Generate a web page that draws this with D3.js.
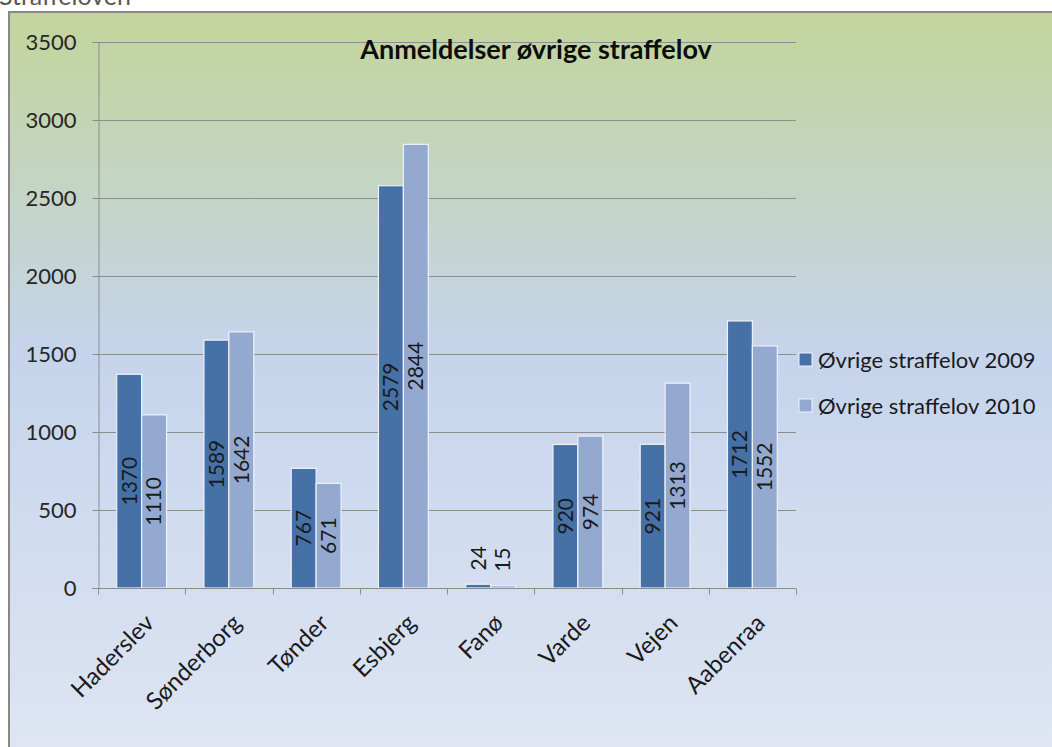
<!DOCTYPE html>
<html>
<head>
<meta charset="utf-8">
<script src="https://cdn.jsdelivr.net/npm/d3@7"></script>
<style>
  body { margin: 0; background: #fff; }
  svg { display: block; font-family: Lato, "Open Sans", sans-serif; }
</style>
</head>
<body>
<div id="chart"></div>
<script>
// data
var categories = ['Haderslev', 'Sønderborg', 'Tønder', 'Esbjerg', 'Fanø', 'Varde', 'Vejen', 'Aabenraa'];
var values2009 = [1370, 1589, 767, 2579, 24, 920, 921, 1712];
var values2010 = [1110, 1642, 671, 2844, 15, 974, 1313, 1552];
var seriesNames = ['Øvrige straffelov 2009', 'Øvrige straffelov 2010'];
var yTicks = [0, 500, 1000, 1500, 2000, 2500, 3000, 3500];
var colors = ['#4571a6', '#94a9d0'];

var width = 1052, height = 747;
var svg = d3.select('#chart').append('svg')
  .attr('width', width)
  .attr('height', height);

// background gradient (green top -> blue -> pale)
var defs = svg.append('defs');
var grad = defs.append('linearGradient')
  .attr('id', 'bg')
  .attr('x1', 0).attr('y1', 0).attr('x2', 0).attr('y2', 1);
grad.append('stop').attr('offset', '0%').attr('stop-color', '#c3d59a');
grad.append('stop').attr('offset', '45%').attr('stop-color', '#c5d4ec');
grad.append('stop').attr('offset', '100%').attr('stop-color', '#e0e6f3');

// heading above the chart, cut off by the top edge like in the original
svg.append('text')
  .attr('x', -1)
  .attr('y', 5)
  .style('font-size', '25px')
  .style('fill', '#595959')
  .text('Straffeloven');

svg.append('rect')
  .attr('x', 9)
  .attr('y', 12)
  .attr('width', 1060)
  .attr('height', 760)
  .style('fill', 'url(#bg)')
  .style('stroke', '#888')
  .style('stroke-width', 2);

var plot = { left: 98, right: 796, top: 42, bottom: 588 };

var x = d3.scaleBand()
  .domain(categories)
  .range([plot.left, plot.right]);

var inner = d3.scaleBand()
  .domain([0, 1])
  .range([0, x.bandwidth()])
  .paddingOuter(0.75)
  .paddingInner(0);

var y = d3.scaleLinear()
  .domain([0, 3500])
  .range([plot.bottom, plot.top]);

// gridlines
svg.append('g')
  .selectAll('line')
  .data(yTicks)
  .enter()
  .append('line')
  .attr('x1', plot.left)
  .attr('x2', plot.right)
  .attr('y1', function(d) { return Math.round(y(d)) + 0.5; })
  .attr('y2', function(d) { return Math.round(y(d)) + 0.5; })
  .style('stroke', '#8c8c8c')
  .style('stroke-width', 1);

// y axis
var yAxis = svg.append('g')
  .attr('transform', 'translate(' + (plot.left + 0.5) + ',0)')
  .call(d3.axisLeft(y).tickValues(yTicks).tickFormat(d3.format('d')).tickSize(6).tickPadding(16));
yAxis.select('.domain').style('stroke', '#8c8c8c');
yAxis.selectAll('.tick line').style('stroke', '#8c8c8c');
yAxis.selectAll('.tick text')
  .style('font-size', '22px')
  .style('fill', '#262626')
  .style('font-family', 'Lato, sans-serif');

// bars
var series = [values2009, values2010];
series.forEach(function(vals, s) {
  var g = svg.append('g');
  g.selectAll('rect')
    .data(vals)
    .enter()
    .append('rect')
    .attr('x', function(d, i) { return x(categories[i]) + inner(s); })
    .attr('y', function(d) { return y(d); })
    .attr('width', inner.bandwidth())
    .attr('height', function(d) { return y(0) - y(d); })
    .style('fill', colors[s])
    .style('stroke', '#eef2fa')
    .style('stroke-width', 1.2);

  // value labels, rotated, centered in the bar (above it if the bar is tiny)
  g.selectAll('text')
    .data(vals)
    .enter()
    .append('text')
    .attr('transform', function(d, i) {
      var cx = x(categories[i]) + inner(s) + inner.bandwidth() / 2;
      var h = y(0) - y(d);
      var cy = h > 60 ? (y(d) + y(0)) / 2 : y(d) - 26;
      return 'translate(' + cx + ',' + cy + ') rotate(-90)';
    })
    .attr('text-anchor', 'middle')
    .attr('dy', '0.35em')
    .style('font-size', '21px')
    .style('fill', '#1a1a1a')
    .text(function(d) { return d; });
});

// x axis
var xAxis = svg.append('g')
  .attr('transform', 'translate(0,' + (plot.bottom + 0.5) + ')');
xAxis.append('line')
  .attr('x1', plot.left)
  .attr('x2', plot.right)
  .style('stroke', '#8c8c8c');
xAxis.selectAll('line.tk')
  .data(d3.range(categories.length + 1))
  .enter()
  .append('line')
  .attr('class', 'tk')
  .attr('x1', function(i) { return Math.round(plot.left + i * x.step()) + 0.5; })
  .attr('x2', function(i) { return Math.round(plot.left + i * x.step()) + 0.5; })
  .attr('y1', 0)
  .attr('y2', 6)
  .style('stroke', '#8c8c8c');
xAxis.selectAll('text')
  .data(categories)
  .enter()
  .append('text')
  .attr('transform', function(d) {
    return 'translate(' + (x(d) + x.bandwidth() / 2 + 14) + ',' + 36 + ') rotate(-45)';
  })
  .attr('text-anchor', 'end')
  .style('font-size', '24px')
  .style('fill', '#1a1a1a')
  .text(function(d) { return d; });

// title
svg.append('text')
  .attr('x', 536)
  .attr('y', 59)
  .attr('text-anchor', 'middle')
  .style('font-size', '27px')
  .style('font-weight', 'bold')
  .style('fill', '#0d0d0d')
  .text('Anmeldelser øvrige straffelov');

// legend
var legend = svg.append('g')
  .attr('transform', 'translate(799,353)');
var item = legend.selectAll('g')
  .data(seriesNames)
  .enter()
  .append('g')
  .attr('transform', function(d, i) { return 'translate(0,' + (i * 46) + ')'; });
item.append('rect')
  .attr('width', 13)
  .attr('height', 13)
  .style('fill', function(d, i) { return colors[i]; })
  .style('stroke', '#eef2fa');
item.append('text')
  .attr('x', 19)
  .attr('y', 7)
  .attr('dy', '0.35em')
  .style('font-size', '22px')
  .style('fill', '#1a1a1a')
  .text(function(d) { return d; });
</script>
</body>
</html>
